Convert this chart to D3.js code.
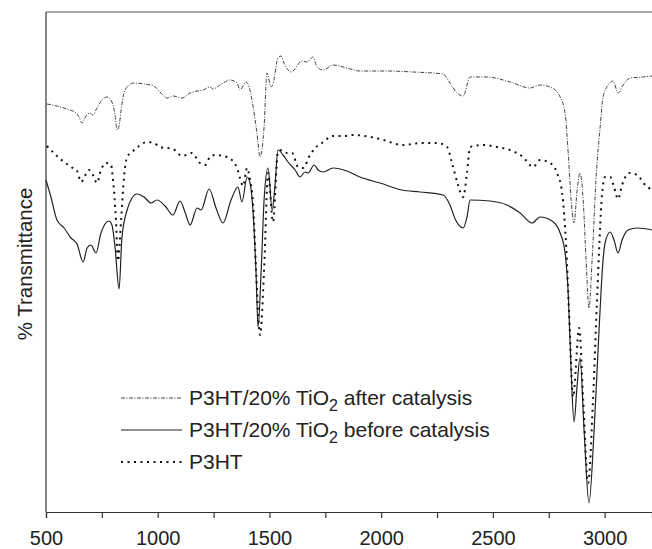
<!DOCTYPE html>
<html>
<head>
<meta charset="utf-8">
<script src="https://cdn.jsdelivr.net/npm/d3@7"></script>
<style>
  body { margin: 0; background: #fff; }
  text { font-family: "Liberation Sans", Arial, sans-serif; fill: #222; }
</style>
</head>
<body>
<div id="chart"></div>
<script>
// wavenumber (cm-1) and transmittance (arbitrary %)
const afterWn = [504, 549, 594, 634, 648, 661, 679, 697, 710, 728, 751, 773, 795, 809, 818, 827, 836, 849, 872, 894, 939, 983, 1010, 1042, 1068, 1109, 1145, 1176, 1203, 1234, 1247, 1279, 1324, 1355, 1368, 1395, 1409, 1427, 1444, 1458, 1476, 1489, 1507, 1516, 1538, 1552, 1565, 1597, 1646, 1668, 1695, 1713, 1740, 1785, 1847, 1905, 2026, 2143, 2277, 2308, 2340, 2367, 2398, 2474, 2577, 2666, 2711, 2765, 2801, 2823, 2837, 2850, 2863, 2877, 2890, 2904, 2917, 2930, 2944, 2962, 2980, 2993, 3016, 3038, 3060, 3083, 3114, 3172, 3212];
const afterT = [81.6, 81.2, 80.6, 79.8, 79, 77.8, 79.2, 79.8, 79.4, 80.8, 82.4, 83, 82, 79.4, 76.4, 77.2, 80.4, 83.8, 85.4, 85.8, 85.6, 85.2, 84, 82.8, 83.2, 82.8, 83.8, 84.2, 84.4, 85, 84.6, 85.4, 86.4, 85.8, 84.4, 86, 85, 81, 75.8, 71, 77, 87.8, 85, 85.6, 90.8, 91.2, 89.8, 88, 90.2, 90, 91, 89, 88.4, 89.4, 88.8, 88.2, 88.2, 88, 87.6, 85.8, 83.8, 83.2, 87, 87, 86, 84.8, 85.4, 84.8, 83, 79.8, 71.8, 62.4, 57.8, 64.4, 67.8, 62.4, 50.4, 40.8, 50.4, 67, 77, 83, 85.4, 86.2, 83.8, 85.4, 86.8, 87, 87.2];

const p3htWn = [504, 549, 612, 639, 657, 679, 692, 710, 728, 746, 769, 791, 800, 813, 822, 836, 849, 863, 885, 916, 952, 983, 1010, 1068, 1109, 1153, 1189, 1212, 1234, 1256, 1310, 1355, 1368, 1382, 1400, 1413, 1427, 1440, 1458, 1476, 1494, 1516, 1538, 1556, 1579, 1601, 1628, 1650, 1682, 1704, 1735, 1785, 1838, 1874, 1995, 2098, 2174, 2250, 2295, 2317, 2340, 2367, 2384, 2398, 2456, 2519, 2577, 2635, 2680, 2711, 2756, 2787, 2810, 2828, 2841, 2859, 2886, 2904, 2926, 2948, 2966, 2989, 3002, 3025, 3042, 3060, 3078, 3110, 3145, 3190, 3212];
const p3htT = [73.2, 71.2, 69, 68.2, 66, 67.6, 68.4, 67.4, 65.8, 68.4, 69.8, 69.4, 66.4, 58.4, 50.2, 58.4, 67, 71, 72, 73.2, 74, 73.8, 73, 72.6, 71.2, 71.8, 69.8, 69.4, 71, 71.4, 71, 68.8, 66.8, 65.2, 68.8, 66.4, 61.4, 48.4, 35.4, 48.4, 67.8, 58, 72, 72.4, 71.8, 71.8, 69, 68.8, 71.4, 72.8, 73.8, 75.2, 75.2, 75.4, 74.6, 73.4, 73.8, 73.8, 73, 69.8, 66, 63, 67.8, 73, 73.4, 73, 72.4, 71, 69, 70.4, 69.8, 67.8, 63.8, 53, 39.8, 23, 36.8, 22.4, 5.8, 22.4, 42.4, 63.8, 67, 67, 65, 62.6, 65.4, 67.8, 67.4, 65, 64.6];

const beforeWn = [500, 522, 549, 581, 612, 639, 666, 684, 701, 724, 746, 782, 795, 809, 827, 840, 863, 885, 907, 939, 970, 997, 1033, 1068, 1100, 1122, 1145, 1176, 1194, 1230, 1261, 1292, 1328, 1359, 1377, 1400, 1413, 1427, 1440, 1449, 1463, 1476, 1494, 1512, 1525, 1538, 1561, 1583, 1615, 1637, 1659, 1673, 1700, 1718, 1740, 1785, 1847, 1905, 1995, 2093, 2174, 2277, 2308, 2331, 2367, 2384, 2398, 2487, 2563, 2622, 2675, 2711, 2765, 2801, 2823, 2837, 2850, 2863, 2877, 2890, 2908, 2930, 2953, 2975, 2993, 3002, 3025, 3042, 3060, 3078, 3105, 3145, 3212];
const beforeT = [66.4, 63, 58.4, 56.8, 54.8, 53.6, 50, 52.8, 53.4, 51.8, 55.8, 58.2, 57.4, 53, 44.6, 55, 60.4, 62.8, 63.6, 63, 61.8, 62.4, 61.2, 59.4, 62.2, 60, 57.4, 60.8, 60.4, 64.6, 60.8, 57.8, 62.4, 65, 62, 67, 65.8, 59.8, 47.8, 37, 48.4, 62.4, 68.8, 60.4, 65.4, 72.4, 71.4, 70, 68.4, 67, 68, 67.8, 69.4, 68.4, 68, 68.8, 68.2, 67, 65.8, 64.4, 64, 63.4, 61.4, 58.6, 56.8, 59, 62.4, 62.2, 61.4, 59.8, 57.8, 59, 58.2, 55.8, 51.8, 43.8, 28.4, 18, 25.4, 30.8, 16.4, 1.8, 16.4, 36.4, 50.4, 53.8, 56, 54.4, 51.8, 54.4, 56.4, 56.8, 56.4];

const majorTicks = [500, 1000, 1500, 2000, 2500, 3000];
const minorTicks = [750, 1250, 1750, 2250, 2750];

const seriesNames = ["P3HT/20% TiO|2| after catalysis", "P3HT/20% TiO|2| before catalysis", "P3HT"];

const width = 652, height = 549;
const margin = {top: 12, right: 0, bottom: 37, left: 46};

const svg = d3.select("#chart").append("svg")
    .attr("width", width)
    .attr("height", height);

const x = d3.scaleLinear()
    .domain([500, 3212])
    .range([margin.left, width - margin.right]);

const y = d3.scaleLinear()
    .domain([0, 100])
    .range([height - margin.bottom, margin.top]);

// frame: top line and left axis
svg.append("line")
    .attr("x1", margin.left).attr("x2", width)
    .attr("y1", margin.top).attr("y2", margin.top)
    .attr("stroke", "#555").attr("stroke-width", 1.2);

svg.append("line")
    .attr("x1", margin.left).attr("x2", margin.left)
    .attr("y1", margin.top).attr("y2", height - margin.bottom)
    .attr("stroke", "#333").attr("stroke-width", 1.2);

// bottom axis
const xAxis = svg.append("g")
    .attr("transform", "translate(0," + (height - margin.bottom) + ")")
    .call(d3.axisBottom(x).tickValues(majorTicks).tickSize(6).tickPadding(13).tickFormat(d3.format("d")));

svg.append("g")
    .attr("transform", "translate(0," + (height - margin.bottom) + ")")
    .call(d3.axisBottom(x).tickValues(minorTicks).tickSize(6).tickFormat(""))
    .select(".domain").remove();

svg.selectAll(".tick line").attr("stroke", "#333").attr("stroke-width", 1.2);
xAxis.select(".domain").attr("stroke", "#333").attr("stroke-width", 1.2);
xAxis.selectAll("text")
    .style("font-size", "20px")
    .style("font-family", "'Liberation Sans', Arial, sans-serif")
    .attr("fill", "#222");

// y label
svg.append("text")
    .attr("transform", "translate(32," + ((margin.top + height - margin.bottom) / 2 + 2) + ") rotate(-90)")
    .attr("text-anchor", "middle")
    .style("font-size", "20.5px")
    .text("% Transmittance");

const line = d3.line()
    .x(d => x(d[0]))
    .y(d => y(d[1]))
    .curve(d3.curveMonotoneX);

const styles = [
    {stroke: "#444", width: 1, dash: "4,1.5,1,1.5"},
    {stroke: "#222", width: 1.2, dash: null},
    {stroke: "#111", width: 2, dash: "2,4.5"}
];

const data = [
    d3.zip(afterWn, afterT),
    d3.zip(beforeWn, beforeT),
    d3.zip(p3htWn, p3htT)
];

svg.selectAll(".curve")
    .data(data)
    .enter()
    .append("path")
    .attr("class", "curve")
    .attr("d", line)
    .attr("fill", "none")
    .attr("stroke", (d, i) => styles[i].stroke)
    .attr("stroke-width", (d, i) => styles[i].width)
    .attr("stroke-dasharray", (d, i) => styles[i].dash);

// legend
const legend = svg.selectAll(".legend")
    .data(seriesNames)
    .enter()
    .append("g")
    .attr("class", "legend")
    .attr("transform", (d, i) => "translate(121," + (398 + i * 32) + ")");

legend.append("line")
    .attr("x1", 0).attr("x2", 61)
    .attr("y1", 0).attr("y2", 0)
    .attr("stroke", (d, i) => styles[i].stroke)
    .attr("stroke-width", (d, i) => styles[i].width)
    .attr("stroke-dasharray", (d, i) => styles[i].dash);

legend.append("text")
    .attr("x", 68)
    .attr("y", 7)
    .style("font-size", "21px")
    .each(function(d) {
        const parts = d.split("|");
        const t = d3.select(this);
        t.append("tspan").text(parts[0]);
        if (parts.length > 1) {
            t.append("tspan").attr("dy", 6).style("font-size", "16px").text(parts[1]);
            t.append("tspan").attr("dy", -6).text(parts[2]);
        }
    });
</script>
</body>
</html>
